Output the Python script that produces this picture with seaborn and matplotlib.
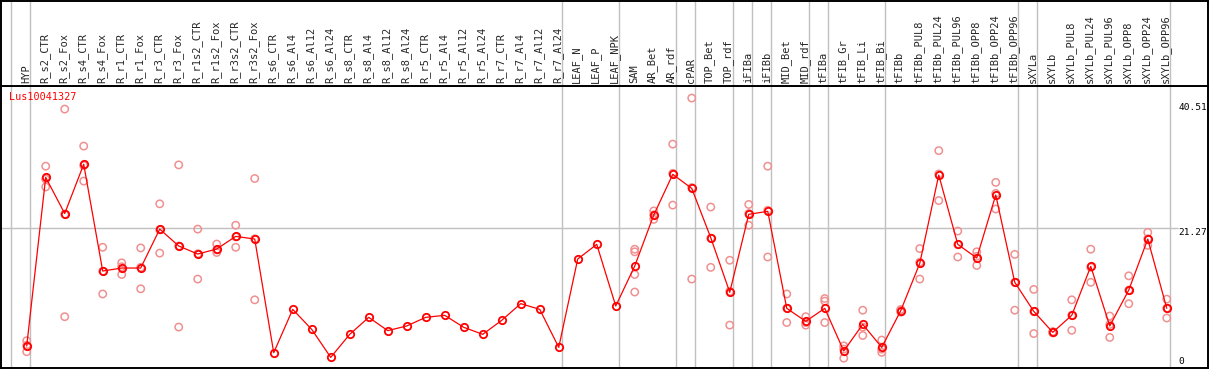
import numpy as np
import pandas as pd
import matplotlib
matplotlib.use("Agg")
import matplotlib.pyplot as plt
import seaborn as sns

# --- data ------------------------------------------------------------------
gene = "Lus10041327"

categories = [
    "HYP", "R_s2_CTR", "R_s2_Fox", "R_s4_CTR", "R_s4_Fox", "R_r1_CTR", "R_r1_Fox",
    "R_r3_CTR", "R_r3_Fox", "R_r1s2_CTR", "R_r1s2_Fox", "R_r3s2_CTR", "R_r3s2_Fox",
    "R_s6_CTR", "R_s6_Al4", "R_s6_Al12", "R_s6_Al24", "R_s8_CTR", "R_s8_Al4",
    "R_s8_Al12", "R_s8_Al24", "R_r5_CTR", "R_r5_Al4", "R_r5_Al12", "R_r5_Al24",
    "R_r7_CTR", "R_r7_Al4", "R_r7_Al12", "R_r7_Al24", "LEAF_N", "LEAF_P", "LEAF_NPK",
    "SAM", "AR_Bet", "AR_rdf", "cPAR", "TOP_Bet", "TOP_rdf", "iFIBa", "iFIBb",
    "MID_Bet", "MID_rdf", "tFIBa", "tFIB_Gr", "tFIB_Li", "tFIB_Bi", "tFIBb",
    "tFIBb_PUL8", "tFIBb_PUL24", "tFIBb_PUL96", "tFIBb_OPP8", "tFIBb_OPP24",
    "tFIBb_OPP96", "sXYLa", "sXYLb", "sXYLb_PUL8", "sXYLb_PUL24", "sXYLb_PUL96",
    "sXYLb_OPP8", "sXYLb_OPP24", "sXYLb_OPP96",
]

means = [
    3.08, 29.08, 23.5, 31.1, 14.64, 15.1, 15.1, 21.1, 18.5, 17.26, 18.03, 19.98, 19.57,
    2.05, 8.73, 5.64, 1.33, 4.88, 7.5, 5.45, 6.17, 7.5, 7.81, 5.96, 4.88,
    7.04, 9.61, 8.73, 2.87, 16.49, 18.75, 9.25,
    15.41, 23.27, 29.54, 27.38, 19.78, 11.36, 23.38, 23.84,
    8.89, 6.88, 8.89, 2.31, 6.42, 2.87, 8.53,
    15.82, 29.44, 18.75, 16.65, 26.36, 12.9,
    8.42, 5.19, 7.81, 15.36, 6.17, 11.71, 19.57, 8.89,
]

replicates = [
    [3.9, 3.2, 2.2], [30.8, 28.8, 27.6], [39.6, 23.4, 7.6], [33.9, 30.9, 28.5],
    [18.3, 14.6, 11.1], [15.9, 15.3, 14.1], [18.2, 15.2, 11.9], [25.0, 21.0, 17.4],
    [31.0, 18.5, 6.0], [21.1, 17.3, 13.4], [18.8, 17.9, 17.5], [21.7, 19.9, 18.3],
    [28.9, 19.6, 10.2],
    [], [], [], [], [], [], [], [], [], [], [], [], [], [], [], [],
    [], [], [],
    [18.0, 17.6, 14.1, 11.4], [23.9, 23.3, 22.6], [34.2, 29.7, 24.8],
    [41.3, 27.5, 13.4], [24.5, 19.7, 15.2], [16.3, 11.5, 6.3], [24.9, 23.5, 21.7],
    [30.8, 24.0, 16.8], [11.1, 8.9, 6.7], [7.6, 6.7, 6.3], [10.4, 10.0, 6.7],
    [3.1, 2.6, 1.2], [8.6, 6.0, 4.7], [4.0, 2.6, 2.1], [8.7, 8.6, 8.3],
    [18.1, 16.0, 13.4], [33.2, 29.6, 25.5], [20.8, 18.7, 16.8], [17.6, 16.9, 15.5],
    [28.3, 26.6, 24.2], [17.2, 12.9, 8.6],
    [11.8, 8.4, 5.0], [5.3, 5.2, 5.1], [10.2, 7.8, 5.5], [18.0, 15.2, 12.9],
    [7.7, 6.4, 4.4], [13.9, 11.7, 9.6], [20.6, 19.6, 18.6], [10.3, 8.9, 7.4],
]

# last category of each block (separator drawn just right of it), -1 = left edge
group_ends = [-1, 0, 28, 31, 34, 35, 37, 38, 39, 41, 42, 45, 52, 53, 60]
scale_labels = [40.51, 21.27, 0]

# --- frames ------------------------------------------------------------------
mean_df = pd.DataFrame({"pos": np.arange(len(categories)), "value": means})
rep_df = pd.DataFrame(
    [(i, v) for i, vals in enumerate(replicates) for v in vals],
    columns=["pos", "value"],
)

sns.set_style("white")
plt.rcParams["font.family"] = ["DejaVu Sans Mono", "DejaVu Sans"]

W, H = 1209, 370
fig = plt.figure(figsize=(W / 100, H / 100), dpi=100)


def px_rect(x0, y0, x1, y1):
    return [x0 / W, 1 - y1 / H, (x1 - x0) / W, (y1 - y0) / H]


ax = fig.add_axes(px_rect(1, 86, 1208, 368))
hx = fig.add_axes(px_rect(1, 1, 1208, 86))

xlim = (-1.353, 62.17)
ax.set_xlim(*xlim)
hx.set_xlim(*xlim)
ax.set_ylim(-0.31, 43.16)
hx.set_ylim(0, 1)

grid_c = "#c0c0c0"
for b in group_ends:
    for a in (ax, hx):
        a.axvline(b + 0.175, color=grid_c, lw=1.0, zorder=0)
ax.hlines(21.27, xlim[0], 60.6, color=grid_c, lw=1.0, zorder=0)

sns.scatterplot(data=rep_df, x="pos", y="value", ax=ax, marker="o", s=28,
                facecolor="none", edgecolor="#f09090", linewidth=1.1, zorder=2)
sns.lineplot(data=mean_df, x="pos", y="value", ax=ax, color="red", lw=0.9,
             marker="o", markersize=5.3, markerfacecolor="none",
             markeredgecolor="red", markeredgewidth=1.3, zorder=3)

for i, cat in enumerate(categories):
    hx.text(i - 0.05, 0.03, cat, rotation=90, ha="center", va="bottom",
            fontsize=7.5)

for v in scale_labels:
    ax.text(60.6, v, f"{v:g}", ha="left", va="top" if v > 0 else "bottom",
            fontsize=6.8, color="black")

ax.text(-0.93, 42.3, gene, color="red", ha="left", va="top", fontsize=7.3)

for a in (ax, hx):
    a.set_xticks([])
    a.set_yticks([])
    a.set_xlabel("")
    a.set_ylabel("")
    for sp in a.spines.values():
        sp.set_color("black")
        sp.set_linewidth(1.4)

fig.savefig("out.png", dpi=100)
